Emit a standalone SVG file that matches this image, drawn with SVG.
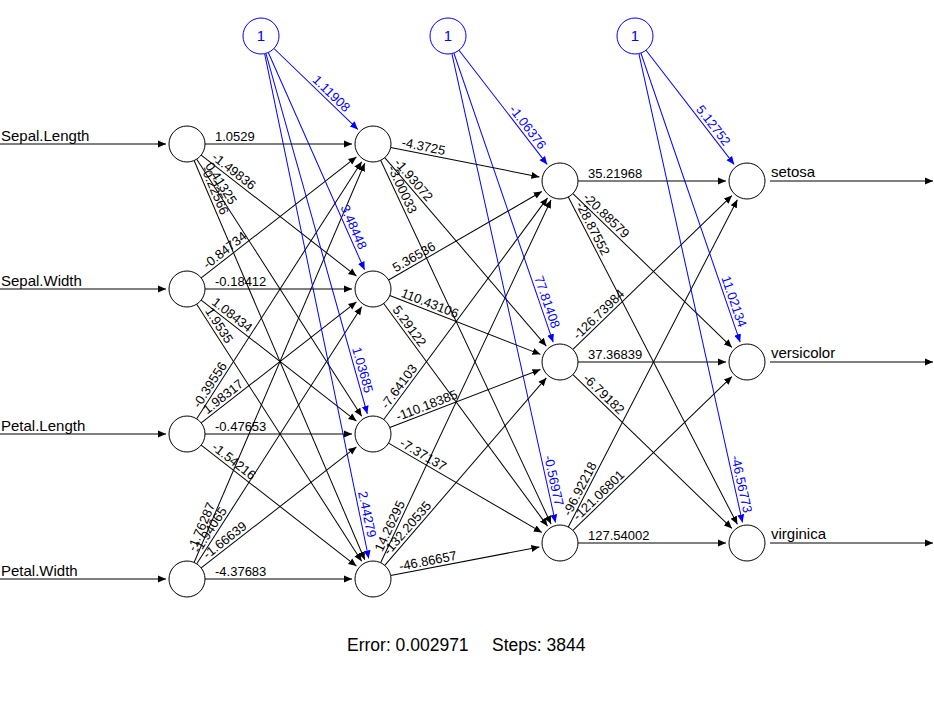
<svg xmlns="http://www.w3.org/2000/svg" width="934" height="724" viewBox="0 0 934 724">
<defs>
<marker id="ah" markerWidth="9" markerHeight="8" refX="8" refY="4" orient="auto" markerUnits="userSpaceOnUse"><path d="M0,0.5 L8,4 L0,7.5 z" fill="#000"/></marker>
<marker id="ahb" markerWidth="9" markerHeight="8" refX="8" refY="4" orient="auto" markerUnits="userSpaceOnUse"><path d="M0,0.5 L8,4 L0,7.5 z" fill="#00f"/></marker>
<style>
.c{fill:#fff;stroke:#000;stroke-width:1}
.cb{fill:#fff;stroke:#00f;stroke-width:1}
.e{stroke:#000;stroke-width:1;marker-end:url(#ah)}
.eb{stroke:#00f;stroke-width:1;marker-end:url(#ahb)}
text{font-family:"Liberation Sans",Arial,sans-serif}
.w{font-size:13px;fill:#000}
.wb{font-size:13px;fill:#00f}
.lab{font-size:15px;fill:#000}
.one{font-size:15px;fill:#00f;text-anchor:middle}
.err{font-size:17.5px;fill:#000}
</style>
</defs>
<rect width="934" height="724" fill="#fff"/>
<g id="connectors">
<line class="e" x1="0" y1="144" x2="166" y2="144"/>
<line class="e" x1="0" y1="289" x2="166" y2="289"/>
<line class="e" x1="0" y1="434" x2="166" y2="434"/>
<line class="e" x1="0" y1="579" x2="166" y2="579"/>
<line class="e" x1="770" y1="181" x2="933" y2="181"/>
<line class="e" x1="770" y1="362" x2="933" y2="362"/>
<line class="e" x1="770" y1="543" x2="933" y2="543"/>

<g transform="translate(187,144)"><line class="e" x1="18" y1="0" x2="165" y2="0"/><text class="w" x="28" y="-3">1.0529</text></g>
<g transform="translate(187,144) rotate(37.94)"><line class="e" x1="18" y1="0" x2="214.84" y2="0"/><text class="w" x="28" y="-3">-1.49836</text></g>
<g transform="translate(187,144) rotate(57.32)"><line class="e" x1="18" y1="0" x2="323.52" y2="0"/><text class="w" x="28" y="-3">0.41325</text></g>
<g transform="translate(187,144) rotate(66.85)"><line class="e" x1="18" y1="0" x2="452.10" y2="0"/><text class="w" x="28" y="-3">-0.22566</text></g>

<g transform="translate(187,289) rotate(-37.94)"><line class="e" x1="18" y1="0" x2="214.84" y2="0"/><text class="w" x="28" y="-3">-0.84734</text></g>
<g transform="translate(187,289)"><line class="e" x1="18" y1="0" x2="165" y2="0"/><text class="w" x="28" y="-3">-0.18412</text></g>
<g transform="translate(187,289) rotate(37.94)"><line class="e" x1="18" y1="0" x2="214.84" y2="0"/><text class="w" x="28" y="-3">1.08434</text></g>
<g transform="translate(187,289) rotate(57.32)"><line class="e" x1="18" y1="0" x2="323.52" y2="0"/><text class="w" x="28" y="-3">1.9535</text></g>

<g transform="translate(187,434) rotate(-57.32)"><line class="e" x1="18" y1="0" x2="323.52" y2="0"/><text class="w" x="28" y="-3">-0.39556</text></g>
<g transform="translate(187,434) rotate(-37.94)"><line class="e" x1="18" y1="0" x2="214.84" y2="0"/><text class="w" x="28" y="-3">1.98317</text></g>
<g transform="translate(187,434)"><line class="e" x1="18" y1="0" x2="165" y2="0"/><text class="w" x="28" y="-3">-0.47653</text></g>
<g transform="translate(187,434) rotate(37.94)"><line class="e" x1="18" y1="0" x2="214.84" y2="0"/><text class="w" x="28" y="-3">-1.54216</text></g>

<g transform="translate(187,579) rotate(-66.85)"><line class="e" x1="18" y1="0" x2="452.10" y2="0"/><text class="w" x="28" y="-3">-1.76287</text></g>
<g transform="translate(187,579) rotate(-57.32)"><line class="e" x1="18" y1="0" x2="323.52" y2="0"/><text class="w" x="28" y="-3">-1.94065</text></g>
<g transform="translate(187,579) rotate(-37.94)"><line class="e" x1="18" y1="0" x2="214.84" y2="0"/><text class="w" x="28" y="-3">-1.66639</text></g>
<g transform="translate(187,579)"><line class="e" x1="18" y1="0" x2="165" y2="0"/><text class="w" x="28" y="-3">-4.37683</text></g>

<g transform="translate(373,144) rotate(11.19)"><line class="e" x1="18" y1="0" x2="169.63" y2="0"/><text class="w" x="28" y="-3">-4.3725</text></g>
<g transform="translate(373,144) rotate(49.38)"><line class="e" x1="18" y1="0" x2="266.22" y2="0"/><text class="w" x="28" y="-3">-1.93072</text></g>
<g transform="translate(373,144) rotate(64.89)"><line class="e" x1="18" y1="0" x2="419.64" y2="0"/><text class="w" x="28" y="-3">-3.00033</text></g>

<g transform="translate(373,289) rotate(-30.0)"><line class="e" x1="18" y1="0" x2="194.95" y2="0"/><text class="w" x="28" y="-3">5.36536</text></g>
<g transform="translate(373,289) rotate(21.32)"><line class="e" x1="18" y1="0" x2="179.74" y2="0"/><text class="w" x="28" y="-3">110.43106</text></g>
<g transform="translate(373,289) rotate(53.64)"><line class="e" x1="18" y1="0" x2="294.42" y2="0"/><text class="w" x="28" y="-3">5.29122</text></g>

<g transform="translate(373,434) rotate(-53.53)"><line class="e" x1="18" y1="0" x2="293.61" y2="0"/><text class="w" x="28" y="-3">-7.64103</text></g>
<g transform="translate(373,434) rotate(-21.06)"><line class="e" x1="18" y1="0" x2="179.38" y2="0"/><text class="w" x="28" y="-3">-110.18385</text></g>
<g transform="translate(373,434) rotate(30.24)"><line class="e" x1="18" y1="0" x2="195.45" y2="0"/><text class="w" x="28" y="-3">-7.37137</text></g>

<g transform="translate(373,579) rotate(-64.84)"><line class="e" x1="18" y1="0" x2="418.74" y2="0"/><text class="w" x="28" y="-3">14.26295</text></g>
<g transform="translate(373,579) rotate(-49.25)"><line class="e" x1="18" y1="0" x2="265.46" y2="0"/><text class="w" x="28" y="-3">-132.20535</text></g>
<g transform="translate(373,579) rotate(-10.90)"><line class="e" x1="18" y1="0" x2="169.43" y2="0"/><text class="w" x="28" y="-3">-46.86657</text></g>

<g transform="translate(560,181)"><line class="e" x1="18" y1="0" x2="166" y2="0"/><text class="w" x="28" y="-3">35.21968</text></g>
<g transform="translate(560,181) rotate(44.07)"><line class="e" x1="18" y1="0" x2="239.25" y2="0"/><text class="w" x="28" y="-3">-20.88579</text></g>
<g transform="translate(560,181) rotate(62.68)"><line class="e" x1="18" y1="0" x2="386.44" y2="0"/><text class="w" x="28" y="-3">-28.87552</text></g>

<g transform="translate(560,362) rotate(-44.07)"><line class="e" x1="18" y1="0" x2="239.25" y2="0"/><text class="w" x="28" y="-3">-126.73984</text></g>
<g transform="translate(560,362)"><line class="e" x1="18" y1="0" x2="166" y2="0"/><text class="w" x="28" y="-3">37.36839</text></g>
<g transform="translate(560,362) rotate(44.07)"><line class="e" x1="18" y1="0" x2="239.25" y2="0"/><text class="w" x="28" y="-3">-6.79182</text></g>

<g transform="translate(560,543) rotate(-62.68)"><line class="e" x1="18" y1="0" x2="386.44" y2="0"/><text class="w" x="28" y="-3">-96.92218</text></g>
<g transform="translate(560,543) rotate(-44.07)"><line class="e" x1="18" y1="0" x2="239.25" y2="0"/><text class="w" x="28" y="-3">-121.06801</text></g>
<g transform="translate(560,543)"><line class="e" x1="18" y1="0" x2="166" y2="0"/><text class="w" x="28" y="-3">127.54002</text></g>

<g transform="translate(261,36) rotate(43.96)"><line class="eb" x1="18" y1="0" x2="134.59" y2="0"/><text class="wb" x="67.6" y="-3">1.11908</text></g>
<g transform="translate(261,36) rotate(66.12)"><line class="eb" x1="18" y1="0" x2="255.68" y2="0"/><text class="wb" x="188.7" y="-3">3.48448</text></g>
<g transform="translate(261,36) rotate(74.28)"><line class="eb" x1="18" y1="0" x2="392.46" y2="0"/><text class="wb" x="325.5" y="-3">1.03685</text></g>
<g transform="translate(261,36) rotate(78.35)"><line class="eb" x1="18" y1="0" x2="533.43" y2="0"/><text class="wb" x="466.4" y="-3">2.44279</text></g>

<g transform="translate(448,36) rotate(52.32)"><line class="eb" x1="18" y1="0" x2="162.22" y2="0"/><text class="wb" x="95.2" y="-3">-1.06376</text></g>
<g transform="translate(448,36) rotate(71.04)"><line class="eb" x1="18" y1="0" x2="323.70" y2="0"/><text class="wb" x="256.7" y="-3">77.81408</text></g>
<g transform="translate(448,36) rotate(77.54)"><line class="eb" x1="18" y1="0" x2="498.22" y2="0"/><text class="wb" x="431.2" y="-3">-0.56977</text></g>

<g transform="translate(635,36) rotate(52.32)"><line class="eb" x1="18" y1="0" x2="162.22" y2="0"/><text class="wb" x="95.2" y="-3">5.12752</text></g>
<g transform="translate(635,36) rotate(71.04)"><line class="eb" x1="18" y1="0" x2="323.70" y2="0"/><text class="wb" x="256.7" y="-3">11.02134</text></g>
<g transform="translate(635,36) rotate(77.54)"><line class="eb" x1="18" y1="0" x2="498.22" y2="0"/><text class="wb" x="431.2" y="-3">-46.56773</text></g>
</g>

<g id="in1"><circle class="c" cx="187" cy="144" r="18"/><text class="lab" x="1" y="140.5">Sepal.Length</text></g>
<g id="in2"><circle class="c" cx="187" cy="289" r="18"/><text class="lab" x="1" y="285.5">Sepal.Width</text></g>
<g id="in3"><circle class="c" cx="187" cy="434" r="18"/><text class="lab" x="1" y="430.5">Petal.Length</text></g>
<g id="in4"><circle class="c" cx="187" cy="579" r="18"/><text class="lab" x="1" y="575.5">Petal.Width</text></g>

<g id="h1_1"><circle class="c" cx="373" cy="144" r="18"/></g>
<g id="h1_2"><circle class="c" cx="373" cy="289" r="18"/></g>
<g id="h1_3"><circle class="c" cx="373" cy="434" r="18"/></g>
<g id="h1_4"><circle class="c" cx="373" cy="579" r="18"/></g>

<g id="h2_1"><circle class="c" cx="560" cy="181" r="18"/></g>
<g id="h2_2"><circle class="c" cx="560" cy="362" r="18"/></g>
<g id="h2_3"><circle class="c" cx="560" cy="543" r="18"/></g>

<g id="out1"><circle class="c" cx="747" cy="181" r="18"/><text class="lab" x="771" y="177">setosa</text></g>
<g id="out2"><circle class="c" cx="747" cy="362" r="18"/><text class="lab" x="771" y="358">versicolor</text></g>
<g id="out3"><circle class="c" cx="747" cy="543" r="18"/><text class="lab" x="771" y="539">virginica</text></g>

<g id="bias1"><circle class="cb" cx="261" cy="36" r="18"/><text class="one" x="261" y="41">1</text></g>
<g id="bias2"><circle class="cb" cx="448" cy="36" r="18"/><text class="one" x="448" y="41">1</text></g>
<g id="bias3"><circle class="cb" cx="635" cy="36" r="18"/><text class="one" x="635" y="41">1</text></g>

<text class="err" x="347" y="651">Error: 0.002971<tspan x="492">Steps: 3844</tspan></text>
</svg>
